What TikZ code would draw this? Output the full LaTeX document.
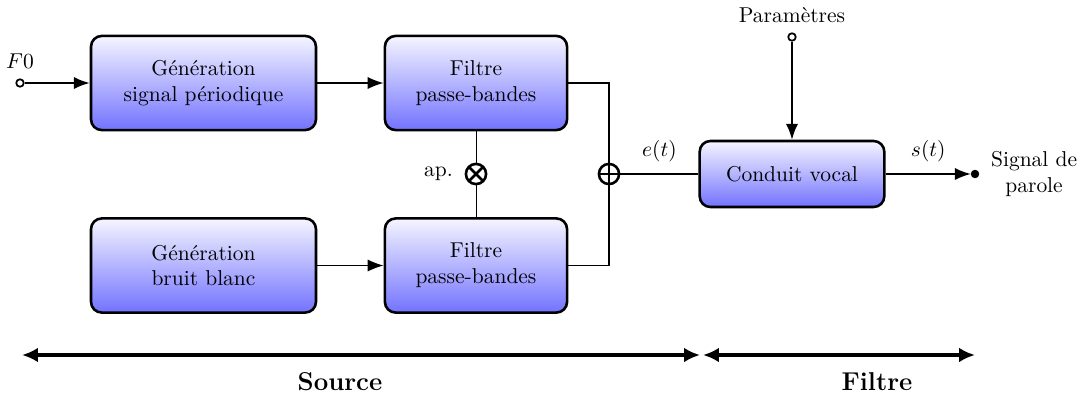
\documentclass[tikz,border=0pt]{standalone}
\usetikzlibrary{arrows.meta,calc}

\tikzset{
    bloc/.style={draw, very thick, rounded corners=5pt, top color=blue!4, bottom color=blue!55, align=center},
    jonction/.style={draw, very thick, circle, fill=white, minimum size=0.33cm, inner sep=0pt},
    entree/.style={draw, circle, fill=white, inner sep=0pt, minimum size=3.5pt, thick},
    sortie/.style={draw, circle, fill=black, inner sep=0pt, minimum size=3.5pt},
    fleche/.style={thick, -{Latex[length=2.6mm,width=2mm]}},
    etendue/.style={line width=1.8pt, {Latex[length=2.6mm,width=2.4mm]}-{Latex[length=2.6mm,width=2.4mm]}}
}

\begin{document}
\begin{tikzpicture}[x=0.01635cm, y=-0.01635cm]
    \useasboundingbox (0,0) rectangle (1079,395);

    % source
    \node[bloc, minimum width=3.68cm, minimum height=1.54cm] (gen1) at (203.5,83) {Génération\\signal périodique};
    \node[bloc, minimum width=2.98cm, minimum height=1.54cm] (filt1) at (476,83) {Filtre\\passe-bandes};
    \node[bloc, minimum width=3.68cm, minimum height=1.54cm] (gen2) at (203.5,265.5) {Génération\\bruit blanc};
    \node[bloc, minimum width=2.98cm, minimum height=1.54cm] (filt2) at (476,265.5) {Filtre\\passe-bandes};

    \draw (filt1) -- (filt2);
    \node[jonction, path picture={
        \draw[very thick] ($(path picture bounding box.north west)!0.15!(path picture bounding box.south east)$) -- ($(path picture bounding box.north west)!0.85!(path picture bounding box.south east)$)
                     ($(path picture bounding box.north east)!0.15!(path picture bounding box.south west)$) -- ($(path picture bounding box.north east)!0.85!(path picture bounding box.south west)$);}]
        (mult) at (476,174) {};
    \node[left=2pt] (ap) at (mult.west) {ap.};
    \draw[thick] (filt1.east) -| (609,174);
    \draw[thick] (filt2.east) -| (609,174);
    \node[jonction, path picture={
        \draw[very thick] (path picture bounding box.north) -- (path picture bounding box.south)
                     (path picture bounding box.east) -- (path picture bounding box.west);}]
        (somme) at (609,174) {};

    % filtre
    \node[bloc, minimum width=3.02cm, minimum height=1.08cm] (vocal) at (792,174) {Conduit vocal};

    \node[entree] (f0) at (20,83) {};
    \node[above=1pt] (lf0) at (f0.north) {$F0$};
    \node[entree] (param) at (792,37) {};
    \node[above=1pt] (lparam) at (param.north) {Paramètres};
    \node[sortie] (out) at (975,174) {};
    \node[right=2pt, align=center] (parole) at (out.east) {Signal de\\parole};

    \draw[fleche] (f0) -- (gen1);
    \draw[fleche] (gen1) -- (filt1);
    \draw[fleche] (gen2) -- (filt2);
    \draw[thick] (somme) -- node[above=2pt] {$e(t)$} (vocal);
    \draw[fleche] (param) -- (vocal);
    \draw[fleche] (vocal) -- node[above=2pt] {$s(t)$} (out);

    % etendues
    \coordinate (s1) at (22,355);
    \coordinate (s2) at (700,355);
    \coordinate (t1) at (703,355);
    \coordinate (t2) at (975,355);
    \draw[etendue] (s1) -- (s2);
    \draw[etendue] (t1) -- (t2);
    \node (source) at (340,382) {\large\bfseries Source};
    \node (filtre) at (877,382) {\large\bfseries Filtre};
\end{tikzpicture}
\end{document}
